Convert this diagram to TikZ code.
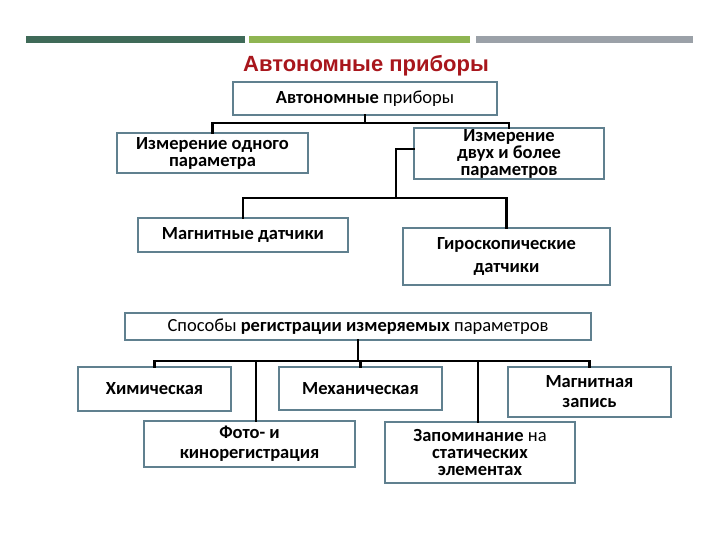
\documentclass[tikz,border=0pt]{standalone}
\usepackage{fontspec}
\setmainfont{Carlito}
\newfontfamily\titlefont{Liberation Sans}
\usetikzlibrary{positioning}
\definecolor{barDark}{HTML}{3F6A58}
\definecolor{barGreen}{HTML}{8FB552}
\definecolor{barGrey}{HTML}{9BA1A8}
\definecolor{boxLine}{HTML}{60808F}
\definecolor{titleRed}{HTML}{A8161C}

\begin{document}
\begin{tikzpicture}[x=1pt, y=-1pt,
    box/.style={
        draw=boxLine, line width=1.6pt, fill=white,
        inner sep=0pt, align=center,
        font=\fontsize{18.5}{17}\selectfont\bfseries
    },
    link/.style={black, line width=2.8pt, line cap=rect}
]
\useasboundingbox (0,0) rectangle (720,540);
% top bars
\fill[barDark] (26,36) rectangle (245,43);
\fill[barGreen] (249,36) rectangle (470,43);
\fill[barGrey] (476,36) rectangle (693,43);

\node[text=titleRed, font=\titlefont\bfseries\fontsize{22}{22}\selectfont] (title) at (366,66) {Автономные приборы};

\node[box, minimum width=264pt, minimum height=33pt] (b1) at (365,98.5) {Автономные \mdseries приборы};
\node[box, minimum width=191pt, minimum height=40pt] (b2) at (212.5,153) {Измерение одного\\параметра};
\node[box, minimum width=190pt, minimum height=51pt] (b3) at (509,153.5) {Измерение\\двух и более\\параметров};
\node[box, minimum width=210pt, minimum height=34pt] (b4) at (243,235) {Магнитные датчики};
\node[box, minimum width=207pt, minimum height=57pt, font=\fontsize{18.5}{23}\selectfont\bfseries] (b5) at (506.5,256.5) {Гироскопические\\датчики};

\node[box, minimum width=466pt, minimum height=27pt, font=\fontsize{18.5}{17}\selectfont] (b6) at (358,326.5) {Способы \textbf{регистрации измеряемых} параметров};
\node[box, minimum width=153pt, minimum height=44pt] (b7) at (154.5,389) {Химическая};
\node[box, minimum width=163pt, minimum height=43pt] (b8) at (360.5,388.5) {Механическая};
\node[box, minimum width=163pt, minimum height=50pt, font=\fontsize{18.5}{20}\selectfont\bfseries] (b9) at (589.5,392) {Магнитная\\запись};
\node[box, minimum width=211pt, minimum height=46pt, font=\fontsize{18.5}{20}\selectfont\bfseries] (b10) at (249.5,444) {Фото- и\\кинорегистрация};
\node[box, minimum width=190pt, minimum height=61pt] (b11) at (480,452.5) {Запоминание \mdseries на\\статических\\элементах};

% upper tree
\coordinate (j1) at (365,123);
\coordinate (j2) at (396,198);
\draw[link] (b1.south) -- (j1);
\draw[link] (b2.north) -- (b2.north |- j1) -- (b3.north |- j1) -- (b3.north);
\draw[link] ([yshift=4.5pt]b3.west) -| (j2);
\draw[link] (b4.north) |- (j2) -| (b5.north);

% lower tree
\coordinate (j3) at (358,361);
\draw[link] (b6.south) -- (j3);
\draw[link] (b7.north |- j3) -- (b9.north |- j3);
\draw[link] (b7.north) -- (b7.north |- j3);
\draw[link] (b8.north) -- (b8.north |- j3);
\draw[link] (b9.north) -- (b9.north |- j3);
\draw[link] ([xshift=6.5pt]b10.north) -- ([xshift=6.5pt]b10.north |- j3);
\draw[link] ([xshift=-2pt]b11.north) -- ([xshift=-2pt]b11.north |- j3);
\end{tikzpicture}
\end{document}
